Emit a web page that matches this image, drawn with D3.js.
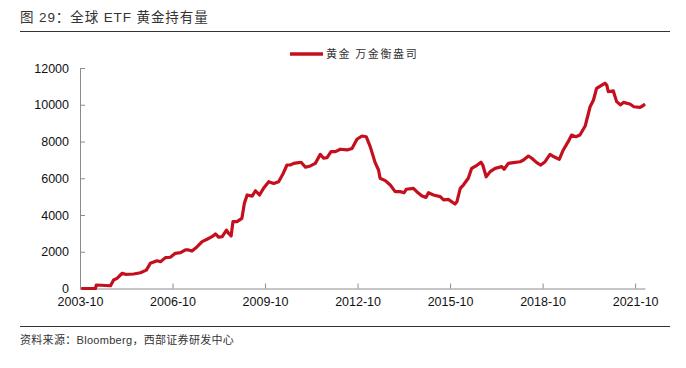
<!DOCTYPE html>
<html><head><meta charset="utf-8">
<script src="https://cdn.jsdelivr.net/npm/d3@7"></script>
<style>body{margin:0;background:#fff}svg{display:block}</style>
</head><body>
<script>
// decimal years
const years = [2003.79,2004.25,2004.28,2004.74,2004.84,2004.95,2005.12,2005.22,2005.49,2005.71,2005.90,2006.03,2006.25,2006.36,2006.52,2006.68,2006.84,2007.01,2007.17,2007.27,2007.38,2007.55,2007.71,2007.87,2008.03,2008.14,2008.25,2008.36,2008.50,2008.57,2008.65,2008.71,2008.84,2009.00,2009.08,2009.17,2009.33,2009.44,2009.57,2009.70,2009.87,2010.03,2010.19,2010.33,2010.46,2010.57,2010.68,2010.84,2010.92,2011.06,2011.22,2011.38,2011.54,2011.65,2011.76,2011.89,2012.03,2012.19,2012.41,2012.57,2012.73,2012.89,2013.03,2013.16,2013.32,2013.43,2013.48,2013.65,2013.81,2013.97,2014.13,2014.26,2014.33,2014.56,2014.67,2014.84,2014.97,2015.05,2015.21,2015.43,2015.54,2015.70,2015.75,2015.91,2015.97,2016.08,2016.18,2016.34,2016.45,2016.59,2016.75,2016.81,2016.92,2017.05,2017.21,2017.43,2017.50,2017.64,2017.80,2018.02,2018.13,2018.29,2018.40,2018.56,2018.69,2018.83,2018.99,2019.12,2019.29,2019.42,2019.58,2019.69,2019.83,2019.96,2020.13,2020.18,2020.29,2020.40,2020.50,2020.67,2020.77,2020.83,2020.88,2021.04,2021.15,2021.28,2021.37,2021.58,2021.71,2021.91,2021.99,2022.07];
const holdings = [0,0,190,150,460,550,830,770,790,860,1000,1370,1510,1460,1680,1700,1915,1950,2100,2100,2040,2275,2550,2680,2820,2970,2790,2820,3180,3000,2860,3640,3640,3820,4640,5090,5030,5320,5090,5450,5810,5720,5810,6230,6720,6720,6810,6850,6870,6600,6670,6810,7300,7090,7120,7450,7450,7580,7540,7620,8120,8300,8260,7720,6850,6450,6000,5870,5630,5270,5270,5210,5400,5450,5270,5030,4960,5210,5090,5000,4820,4850,4780,4600,4720,5450,5630,6000,6540,6670,6870,6720,6080,6360,6540,6630,6490,6810,6850,6900,6990,7210,7090,6850,6720,6900,7300,7170,7030,7540,7990,8350,8260,8350,8840,9170,9890,10260,10890,11070,11170,11070,10710,10760,10170,9990,10130,10040,9890,9860,9930,10040];
const xTickValues = [2003.75,2006.75,2009.75,2012.75,2015.75,2018.75,2021.75];
const xTickLabels = ["2003-10","2006-10","2009-10","2012-10","2015-10","2018-10","2021-10"];
const yTicks = [0,2000,4000,6000,8000,10000,12000];
const seriesName = "黄金 万金衡盎司";
const title = "图 29：全球 ETF 黄金持有量";
const source = "资料来源：Bloomberg，西部证券研发中心";

const W=686,H=368;
const svg=d3.select("body").append("svg").attr("width",W).attr("height",H);
const font="'Liberation Sans', Arial, 'Noto Sans CJK SC', sans-serif";
const cjk="'Noto Sans CJK SC', sans-serif";

svg.append("text").attr("x",20).attr("y",22).attr("font-family",font).attr("font-size",13.5).attr("letter-spacing",0.9).attr("fill","#333").text(title);
svg.append("line").attr("x1",20).attr("x2",670).attr("y1",31.5).attr("y2",31.5).attr("stroke","#333").attr("stroke-width",1);
svg.append("line").attr("x1",20).attr("x2",670).attr("y1",326.5).attr("y2",326.5).attr("stroke","#333").attr("stroke-width",1);
svg.append("text").attr("x",20).attr("y",344).attr("font-family",font).attr("font-size",11).attr("letter-spacing",0.3).attr("fill","#333").text(source);

const x=d3.scaleLinear().domain([2003.75,2022.07]).range([80,645]);
const y=d3.scaleLinear().domain([0,12000]).range([288.5,68]);

const axisColor="#8c8c8c";
const gx=svg.append("g").attr("transform","translate(0,288.5)")
  .call(d3.axisBottom(x).tickValues(xTickValues).tickFormat((d,i)=>xTickLabels[i]).tickSizeInner(-5).tickSizeOuter(0).tickPadding(9));
const gy=svg.append("g").attr("transform","translate(80,0)")
  .call(d3.axisLeft(y).tickValues(yTicks).tickFormat(d=>d).tickSizeInner(-5).tickSizeOuter(0).tickPadding(11));
[gx,gy].forEach(g=>{
  g.select(".domain").attr("stroke",axisColor);
  g.selectAll(".tick line").attr("stroke",axisColor);
  g.selectAll(".tick text").attr("font-family",font).attr("font-size",12.5).attr("fill","#111");
});

const line=d3.line().x((d,i)=>x(years[i])).y(d=>y(d)).curve(d3.curveLinear);
svg.append("path").datum(holdings).attr("d",line).attr("fill","none")
  .attr("stroke","#c4101e").attr("stroke-width",3.2).attr("stroke-linejoin","round");

// legend
svg.append("line").attr("x1",290).attr("x2",323).attr("y1",54).attr("y2",54).attr("stroke","#c4101e").attr("stroke-width",3.5);
svg.append("text").attr("x",326).attr("y",58).attr("font-family",cjk).attr("font-size",11).attr("letter-spacing",1.6).attr("fill","#333").text(seriesName);
</script>
</body></html>
